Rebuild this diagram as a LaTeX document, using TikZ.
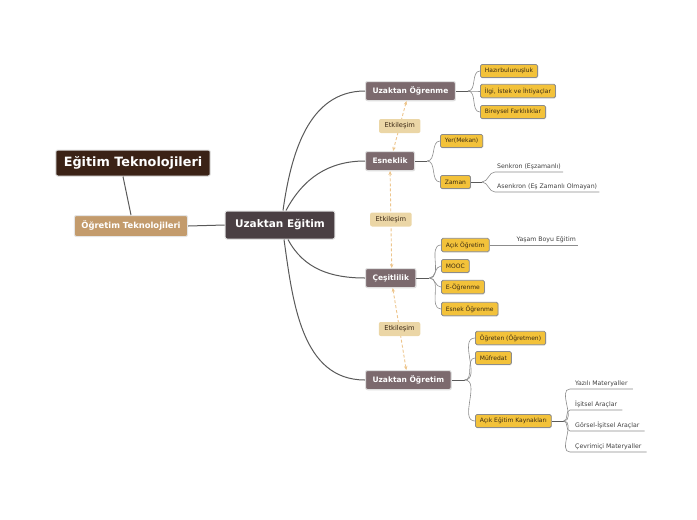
\documentclass[tikz,border=0pt]{standalone}
\usepackage{fontspec}
\setmainfont{DejaVu Sans}
\usepackage{xcolor}
\usepackage{tikz}
\usetikzlibrary{arrows.meta,positioning,shadows}

\definecolor{etdark}{HTML}{3B2216}
\definecolor{ottan}{HTML}{C39B6C}
\definecolor{uecore}{HTML}{4A3F43}
\definecolor{branchc}{HTML}{7C6A6E}
\definecolor{etkfill}{HTML}{EBD6A6}
\definecolor{leafc}{HTML}{F3C23A}
\definecolor{etkline}{HTML}{EDC58C}
\definecolor{inkc}{HTML}{3A2A12}

\begin{document}
\begin{tikzpicture}[x=1pt, y=1pt,
    title/.style={rectangle, rounded corners=2pt, fill=etdark, draw=black!12, line width=1pt, text=white, font=\fontsize{12.8}{15}\selectfont\bfseries, inner xsep=8pt, minimum height=26pt},
    topic/.style={rectangle, rounded corners=2pt, fill=ottan, draw=black!10, line width=1pt, text=white, font=\fontsize{8.4}{10}\selectfont\bfseries, inner xsep=7pt, minimum height=21pt},
    core/.style={rectangle, rounded corners=2pt, fill=uecore, draw=black!12, line width=1pt, text=white, font=\fontsize{10.5}{12}\selectfont\bfseries, inner xsep=10pt, minimum height=28pt},
    branch/.style={rectangle, rounded corners=2pt, fill=branchc, draw=black!12, line width=1pt, text=white, font=\fontsize{7.5}{9}\selectfont\bfseries, inner xsep=7pt, minimum height=19pt, anchor=west, drop shadow={opacity=0.2, shadow xshift=0.6pt, shadow yshift=-0.8pt}},
    leaf/.style={rectangle, rounded corners=1.5pt, fill=leafc, draw=black!45, line width=0.8pt, text=inkc, font=\fontsize{6}{7}\selectfont, inner xsep=4.5pt, minimum height=13pt, anchor=west, drop shadow={opacity=0.25, shadow xshift=0.6pt, shadow yshift=-0.8pt}},
    plainleaf/.style={inner xsep=2pt, inner ysep=2.5pt, text=black!75, font=\fontsize{6.2}{7}\selectfont, anchor=south west},
    etkbox/.style={rectangle, rounded corners=2pt, fill=etkfill, text=black!70!brown, font=\fontsize{6.7}{8}\selectfont, inner xsep=5.5pt, minimum height=14pt},
    link/.style={draw=black!65, line width=1pt},
    twig/.style={draw=black!45, line width=0.6pt},
    etk/.style={{Stealth[length=4pt,width=3.5pt]}-{Stealth[length=4pt,width=3.5pt]}, draw=etkline, line width=0.9pt, dash pattern=on 3pt off 2pt}
]
\useasboundingbox (0,0) rectangle (697,-520);

% --- left side ---
\node[title] (ET) at (133,-163) {Eğitim Teknolojileri};
\node[topic] (OT) at (131,-226) {Öğretim Teknolojileri};
\node[core] (UE) at (280,-225) {Uzaktan Eğitim};

\draw[link] ([xshift=-10pt]ET.south) -- (OT.north);
\draw[link] (OT.east) -- (UE.west);

% --- main branches ---
\node[branch] (UOg) at (365,-91) {Uzaktan Öğrenme};
\node[branch] (Esn) at (365,-161) {Esneklik};
\node[branch] (Ces) at (365,-278) {Çeşitlilik};
\node[branch] (UOt) at (365,-380) {Uzaktan Öğretim};

\draw[link] ([xshift=3pt]UE.north) to[out=82, in=180] (UOg.west);
\draw[link] ([xshift=6pt]UE.north) to[out=62, in=180] (Esn.west);
\draw[link] ([xshift=8pt]UE.south) to[out=-62, in=180] (Ces.west);
\draw[link] ([xshift=4pt]UE.south) to[out=-82, in=180] (UOt.west);

% Etkilesim links
\draw[etk] ([xshift=-4pt]UOg.south) -- node[etkbox] (E1) {Etkileşim} ([xshift=3pt]Esn.north);
\draw[etk] (Esn.south) -- node[etkbox] (E2) {Etkileşim} ([xshift=1pt]Ces.north);
\draw[etk] ([xshift=2pt]Ces.south) -- node[etkbox] (E3) {Etkileşim} ([xshift=-2pt]UOt.north);

% --- Uzaktan Ogrenme ---
\node[leaf] (HB) at (480,-71) {Hazırbulunuşluk};
\node[leaf] (II) at (480,-91) {İlgi, İstek ve İhtiyaçlar};
\node[leaf] (BF) at (480,-112) {Bireysel Farklılıklar};
\coordinate (jUOg) at ([xshift=12pt]UOg.east);
\draw[link] (UOg.east) -- (jUOg);
\foreach \c in {HB,II,BF}
    \draw[twig] (jUOg) to[out=0, in=180] (\c.west);

% --- Esneklik ---
\node[leaf] (YM) at (440,-141) {Yer(Mekan)};
\node[leaf] (Zam) at (440,-182) {Zaman};
\coordinate (jEsn) at ([xshift=12pt]Esn.east);
\draw[link] (Esn.east) -- (jEsn);
\foreach \c in {YM,Zam}
    \draw[twig] (jEsn) to[out=0, in=180] (\c.west);

\node[plainleaf] (Sen) at (495,-172) {Senkron (Eşzamanlı)};
\node[plainleaf] (Asen) at (495,-192) {Asenkron (Eş Zamanlı Olmayan)};
\coordinate (jZam) at ([xshift=11pt]Zam.east);
\draw[link] (Zam.east) -- (jZam);
\foreach \c in {Sen,Asen}
    \draw[twig] (jZam) to[out=0, in=180] (\c.south west) -- (\c.south east);

% --- Cesitlilik ---
\node[leaf] (AO) at (441,-245) {Açık Öğretim};
\node[leaf] (MOOC) at (441,-266) {MOOC};
\node[leaf] (EO) at (441,-287) {E-Öğrenme};
\node[leaf] (EsO) at (441,-309) {Esnek Öğrenme};
\coordinate (jCes) at ([xshift=13pt]Ces.east);
\draw[link] (Ces.east) -- (jCes);
\foreach \c in {AO,MOOC,EO,EsO}
    \draw[twig] (jCes) to[out=0, in=180] (\c.west);

\node[plainleaf, anchor=south east] (YBE) at (578,-245) {Yaşam Boyu Eğitim};
\draw[twig] (AO.east) -- (YBE.south east);

% --- Uzaktan Ogretim ---
\node[leaf] (OgT) at (475,-338) {Öğreten (Öğretmen)};
\node[leaf] (Muf) at (475,-358) {Müfredat};
\node[leaf] (AEK) at (475,-421) {Açık Eğitim Kaynakları};
\coordinate (jUOt) at ([xshift=13pt]UOt.east);
\draw[link] (UOt.east) -- (jUOt);
\foreach \c in {OgT,Muf,AEK}
    \draw[twig] (jUOt) to[out=0, in=180] (\c.west);

\node[plainleaf, inner xsep=5pt] (YazM) at (570,-389) {Yazılı Materyaller};
\node[plainleaf, inner xsep=5pt] (Isit) at (570,-410) {İşitsel Araçlar};
\node[plainleaf, inner xsep=5pt] (GIA) at (570,-431) {Görsel-İşitsel Araçlar};
\node[plainleaf, inner xsep=5pt] (Cev) at (570,-452) {Çevrimiçi Materyaller};
\coordinate (jAEK) at ([xshift=12pt]AEK.east);
\draw[link] (AEK.east) -- (jAEK);
\foreach \c in {YazM,Isit,GIA,Cev}
    \draw[twig] (jAEK) to[out=0, in=180] (\c.south west) -- (\c.south east);

\end{tikzpicture}
\end{document}
